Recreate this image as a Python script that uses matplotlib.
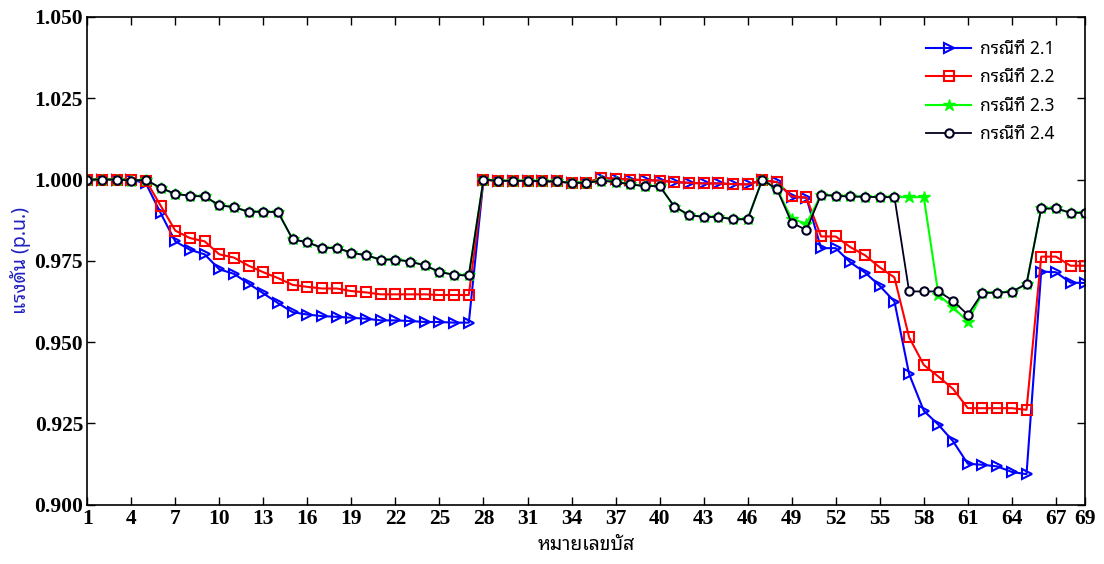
import matplotlib
matplotlib.use("Agg")
import matplotlib.pyplot as plt
from matplotlib import font_manager
from matplotlib.ft2font import FT2Font
import numpy as np

# look for a proportional font with Thai glyphs
thai_fonts = []
for f in font_manager.findSystemFonts():
    try:
        if 0x0E01 in FT2Font(f).get_charmap():
            thai_fonts.append(font_manager.FontProperties(fname=f).get_name())
    except Exception:
        pass
prefer = ["Tahoma", "Noto Sans Thai", "Loma", "Garuda", "Waree", "Umpush", "Sawasdee", "Kinnari", "Norasi"]
thai_font = None
for p in prefer:
    for n in thai_fonts:
        if n.startswith(p) and "Mono" not in n:
            thai_font = n
            break
    if thai_font:
        break
if thai_font is None:
    others = [n for n in thai_fonts if "Mono" not in n]
    thai_font = others[0] if others else (thai_fonts[0] if thai_fonts else None)
thai_family = [thai_font, "DejaVu Sans"] if thai_font else ["DejaVu Sans"]

bus = np.arange(1, 70)

case_21 = [1.0000, 1.0000, 1.0000, 1.0000, 0.9988, 0.9897, 0.9810, 0.9784, 0.9770, 0.9724,
           0.9710, 0.9680, 0.9650, 0.9620, 0.9592, 0.9585, 0.9580, 0.9578, 0.9575, 0.9572,
           0.9567, 0.9567, 0.9565, 0.9562, 0.9562, 0.9560, 0.9560, 1.0000, 0.9996, 0.9996,
           0.9996, 0.9995, 0.9994, 0.9990, 0.9990, 1.0004, 1.0002, 1.0000, 0.9998, 0.9997,
           0.9992, 0.9990, 0.9988, 0.9988, 0.9986, 0.9985, 0.9998, 0.9992, 0.9946, 0.9944,
           0.9789, 0.9789, 0.9745, 0.9714, 0.9673, 0.9625, 0.9402, 0.9289, 0.9246, 0.9195,
           0.9126, 0.9123, 0.9118, 0.9101, 0.9094, 0.9717, 0.9715, 0.9683, 0.9682]

case_22 = [1.0000, 1.0000, 1.0000, 1.0000, 0.9997, 0.9920, 0.9843, 0.9820, 0.9810, 0.9770,
           0.9760, 0.9735, 0.9715, 0.9697, 0.9676, 0.9670, 0.9665, 0.9665, 0.9657, 0.9653,
           0.9647, 0.9647, 0.9647, 0.9647, 0.9645, 0.9645, 0.9645, 1.0000, 0.9996, 0.9996,
           0.9996, 0.9995, 0.9994, 0.9990, 0.9990, 1.0005, 1.0003, 1.0000, 0.9998, 0.9997,
           0.9992, 0.9990, 0.9988, 0.9988, 0.9986, 0.9985, 0.9998, 0.9992, 0.9948, 0.9945,
           0.9825, 0.9825, 0.9792, 0.9767, 0.9730, 0.9699, 0.9515, 0.9430, 0.9394, 0.9356,
           0.9297, 0.9297, 0.9297, 0.9297, 0.9292, 0.9763, 0.9763, 0.9735, 0.9735]

case_23 = [1.0000, 1.0000, 1.0000, 0.9997, 0.9999, 0.9974, 0.9956, 0.9950, 0.9948, 0.9921,
           0.9915, 0.9901, 0.9901, 0.9900, 0.9816, 0.9807, 0.9790, 0.9790, 0.9775, 0.9767,
           0.9754, 0.9754, 0.9748, 0.9736, 0.9716, 0.9707, 0.9705, 1.0000, 0.9996, 0.9996,
           0.9996, 0.9995, 0.9994, 0.9990, 0.9990, 0.9996, 0.9993, 0.9985, 0.9980, 0.9980,
           0.9917, 0.9891, 0.9885, 0.9885, 0.9878, 0.9878, 1.0000, 0.9970, 0.9880, 0.9864,
           0.9953, 0.9950, 0.9948, 0.9947, 0.9946, 0.9946, 0.9946, 0.9946, 0.9645, 0.9607,
           0.9563, 0.9652, 0.9652, 0.9655, 0.9679, 0.9911, 0.9911, 0.9898, 0.9898]

case_24 = [1.0000, 1.0000, 1.0000, 0.9997, 0.9999, 0.9974, 0.9956, 0.9950, 0.9948, 0.9921,
           0.9915, 0.9901, 0.9901, 0.9900, 0.9816, 0.9807, 0.9790, 0.9790, 0.9775, 0.9767,
           0.9754, 0.9754, 0.9748, 0.9736, 0.9716, 0.9707, 0.9705, 1.0000, 0.9996, 0.9996,
           0.9996, 0.9995, 0.9994, 0.9990, 0.9990, 0.9996, 0.9993, 0.9985, 0.9980, 0.9980,
           0.9917, 0.9891, 0.9885, 0.9885, 0.9878, 0.9878, 1.0000, 0.9970, 0.9867, 0.9845,
           0.9953, 0.9950, 0.9948, 0.9947, 0.9946, 0.9946, 0.9656, 0.9656, 0.9656, 0.9627,
           0.9584, 0.9652, 0.9652, 0.9655, 0.9679, 0.9911, 0.9911, 0.9898, 0.9898]

labels = ["กรณีที่ 2.1", "กรณีที่ 2.2", "กรณีที่ 2.3", "กรณีที่ 2.4"]
xticks = list(range(1, 68, 3)) + [69]
yticks = np.arange(0.900, 1.0501, 0.025)

fig = plt.figure(figsize=(11.04, 5.64), dpi=100)
ax = fig.add_axes([0.079, 0.105, 0.904, 0.865])

ax.plot(bus, case_21, color="#0000ff", lw=1.5, marker=">", ms=7, mfc="none", mew=1.5, label=labels[0])
ax.plot(bus, case_22, color="#ff0000", lw=1.5, marker="s", ms=7.5, mfc="none", mew=1.5, label=labels[1])
ax.plot(bus, case_23, color="#00ff00", lw=1.5, marker="*", ms=9, mfc="#00ff00", mec="#00ff00", label=labels[2])
ax.plot(bus, case_24, color="#000020", lw=1.3, marker="o", ms=6, mfc="white", mew=1.5, label=labels[3])

ax.set_xlim(1, 69)
ax.set_ylim(0.900, 1.050)
ax.set_xticks(xticks)
ax.set_yticks(yticks)
ax.set_yticklabels(["%.3f" % v for v in yticks])
ax.tick_params(direction="in", top=True, right=True, length=6, width=1, pad=3)
for lab in ax.get_xticklabels() + ax.get_yticklabels():
    lab.set_fontfamily("Liberation Serif")
    lab.set_fontweight("bold")
    lab.set_fontsize(15.5)
for s in ax.spines.values():
    s.set_linewidth(1.2)

ax.set_xlabel("หมายเลขบัส", family=thai_family, fontsize=14, labelpad=4)
ax.set_ylabel("แรงดัน (p.u.)", family=thai_family, fontsize=14, color="#2020c0", labelpad=2)

leg = ax.legend(loc="upper right", bbox_to_anchor=(0.985, 0.985), frameon=False,
                prop={"family": thai_family, "size": 12.5}, handlelength=2.6,
                labelspacing=0.6, handletextpad=0.5)

fig.savefig("out.png", dpi=100)
